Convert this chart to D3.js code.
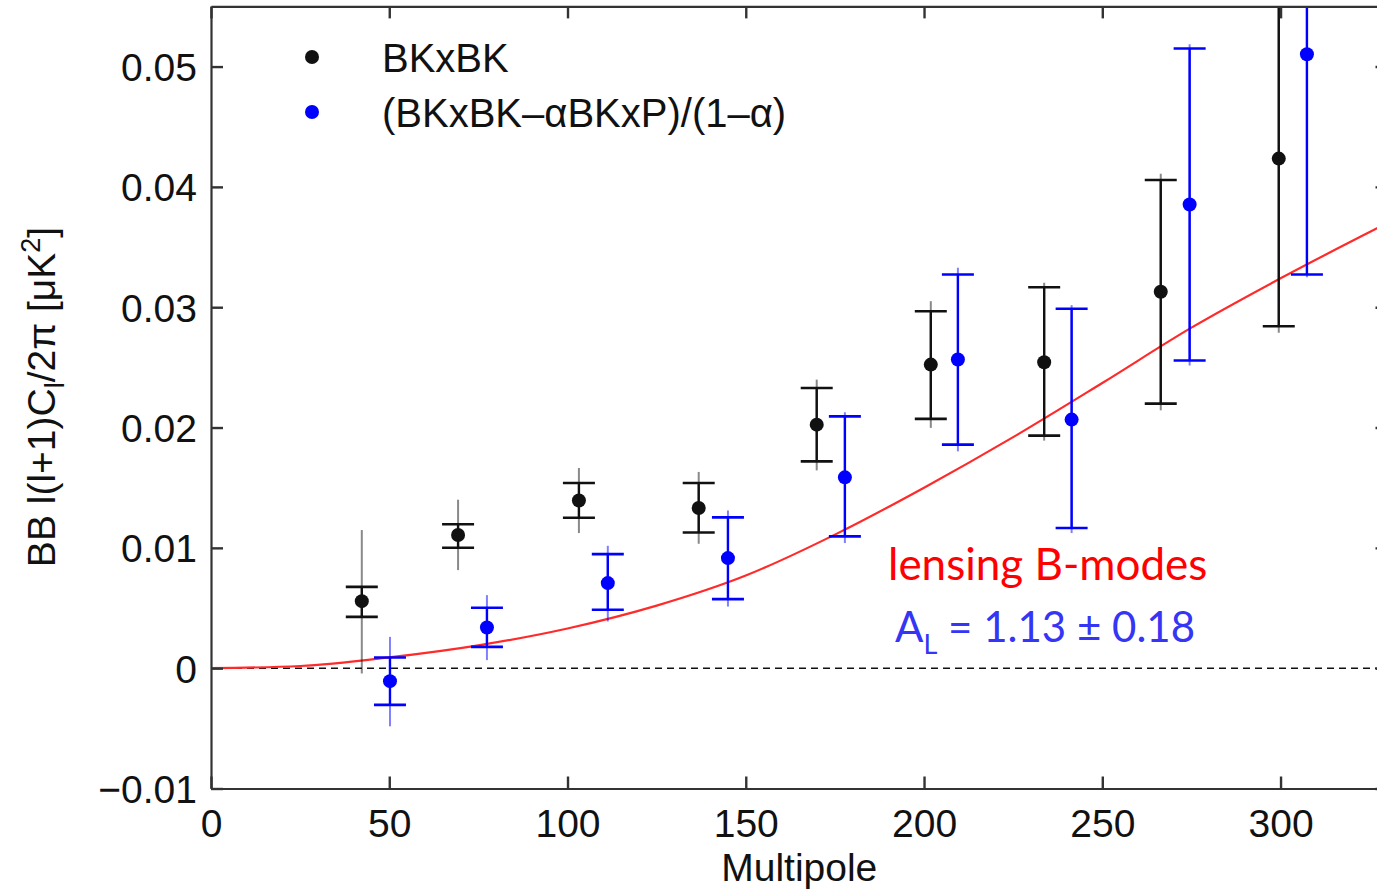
<!DOCTYPE html>
<html>
<head>
<meta charset="utf-8">
<script src="https://cdn.jsdelivr.net/npm/d3@7"></script>
<style>
  html, body { margin: 0; padding: 0; background: #fff; }
  svg { display: block; }
  text { font-family: "Liberation Sans", Arial, Helvetica, sans-serif; fill: #111; }
</style>
</head>
<body>
<svg id="chart" width="1377" height="893"></svg>
<script>
// Axis ticks
const xTicks = [0, 50, 100, 150, 200, 250, 300];
const xTickLabels = ["0", "50", "100", "150", "200", "250", "300"];
const yTicks = [-0.01, 0, 0.01, 0.02, 0.03, 0.04, 0.05];
const yTickLabels = ["\u22120.01", "0", "0.01", "0.02", "0.03", "0.04", "0.05"];

// BKxBK bandpowers
const bkEll   = [42.3, 69.3, 103.2, 136.8, 169.9, 201.9, 233.7, 266.4, 299.5];
const bkVal   = [0.00557, 0.01107, 0.01394, 0.01331, 0.02024, 0.02523, 0.02542, 0.03128, 0.04235];
const bkCapLo = [0.00426, 0.01001, 0.01250, 0.01128, 0.01719, 0.02072, 0.01933, 0.02199, 0.02842];
const bkCapHi = [0.00676, 0.01196, 0.01539, 0.01539, 0.02329, 0.02967, 0.03166, 0.04057, 0.05628];
const bkErrLo = [-0.00044, 0.00815, 0.01123, 0.01034, 0.01644, 0.01997, 0.01891, 0.02143, 0.02787];
const bkErrHi = [0.01148, 0.01400, 0.01664, 0.01631, 0.02398, 0.03050, 0.03203, 0.04110, 0.05680];

// (BKxBK - alpha BKxP)/(1 - alpha) bandpowers
const cleanEll   = [50.2, 77.4, 111.3, 145.0, 177.8, 209.5, 241.4, 274.5, 307.4];
const cleanVal   = [-0.00108, 0.00338, 0.00707, 0.00915, 0.01586, 0.02565, 0.02066, 0.03854, 0.05102];
const cleanCapLo = [-0.00305, 0.00177, 0.00485, 0.00574, 0.01095, 0.01858, 0.01165, 0.02557, 0.03272];
const cleanCapHi = [0.00089, 0.00502, 0.00948, 0.01253, 0.02093, 0.03272, 0.02987, 0.05150, 0.06930];
const cleanErrLo = [-0.00483, 0.00067, 0.00388, 0.00512, 0.01040, 0.01802, 0.01123, 0.02515, 0.03250];
const cleanErrHi = [0.00260, 0.00607, 0.01017, 0.01311, 0.02127, 0.03328, 0.03017, 0.05186, 0.06970];

// Lensing B-mode model spectrum
const lensEll = [0, 25, 50, 75, 100, 125, 150, 175, 200, 225, 250, 275, 300, 330];
const lensD   = [0, 0.00018, 0.0009, 0.0019, 0.0033, 0.0052, 0.0077, 0.0111, 0.0150, 0.0192, 0.0237, 0.0283, 0.0324, 0.0370];

const legendLabels = ["BKxBK", "(BKxBK\u2013\u03B1BKxP)/(1\u2013\u03B1)"];

const svg = d3.select("#chart");
const plotLeft = 211, plotRight = 1387.5, plotTop = 6.4, plotBottom = 788.5;

const x = d3.scaleLinear().domain([0, 330]).range([plotLeft, plotRight]);
const y = d3.scaleLinear().domain([-0.01, 0.055]).range([plotBottom, plotTop]);

svg.append("rect").attr("width", 1377).attr("height", 893).attr("fill", "#fff");

svg.append("defs").append("clipPath").attr("id", "plotclip")
  .append("rect").attr("x", plotLeft).attr("y", plotTop)
  .attr("width", plotRight - plotLeft).attr("height", plotBottom - plotTop);

const plot = svg.append("g").attr("clip-path", "url(#plotclip)");

// zero reference line
plot.append("line")
  .attr("x1", x(0)).attr("x2", x(330))
  .attr("y1", y(0)).attr("y2", y(0))
  .attr("stroke", "#111").attr("stroke-width", 1.6)
  .attr("stroke-dasharray", "7,5");

// model curve
plot.append("path")
  .datum(lensEll.map((l, i) => [l, lensD[i]]))
  .attr("fill", "none")
  .attr("stroke", "#ff2a2a")
  .attr("stroke-width", 2.2)
  .attr("d", d3.line().x(d => x(d[0])).y(d => y(d[1])).curve(d3.curveMonotoneX));

function drawSeries(ell, val, capLo, capHi, errLo, errHi, color, faint) {
  const g = plot.append("g");
  const idx = d3.range(ell.length);
  // full error extent, faint
  g.selectAll("line.full").data(idx).join("line").attr("class", "full")
    .attr("x1", i => x(ell[i])).attr("x2", i => x(ell[i]))
    .attr("y1", i => y(errLo[i])).attr("y2", i => y(errHi[i]))
    .attr("stroke", faint).attr("stroke-width", 2);
  // inner error extent, solid
  g.selectAll("line.inner").data(idx).join("line").attr("class", "inner")
    .attr("x1", i => x(ell[i])).attr("x2", i => x(ell[i]))
    .attr("y1", i => y(capLo[i])).attr("y2", i => y(capHi[i]))
    .attr("stroke", color).attr("stroke-width", 2.4);
  // caps
  ["lo", "hi"].forEach(k => {
    const arr = k === "lo" ? capLo : capHi;
    g.selectAll("line.cap" + k).data(idx).join("line").attr("class", "cap" + k)
      .attr("x1", i => x(ell[i]) - 16).attr("x2", i => x(ell[i]) + 16)
      .attr("y1", i => y(arr[i])).attr("y2", i => y(arr[i]))
      .attr("stroke", color).attr("stroke-width", 2.6);
  });
  g.selectAll("circle").data(idx).join("circle")
    .attr("cx", i => x(ell[i])).attr("cy", i => y(val[i]))
    .attr("r", 7).attr("fill", color);
}

drawSeries(bkEll, bkVal, bkCapLo, bkCapHi, bkErrLo, bkErrHi, "#111", "rgba(20,20,20,0.5)");
drawSeries(cleanEll, cleanVal, cleanCapLo, cleanCapHi, cleanErrLo, cleanErrHi, "#0000ff", "rgba(0,0,255,0.5)");

// axes with inward ticks
const axisColor = "#333";
function styleAxis(g) {
  g.select(".domain").attr("stroke", axisColor).attr("stroke-width", 2.2);
  g.selectAll(".tick line").attr("stroke", axisColor).attr("stroke-width", 2.4);
  g.selectAll(".tick text").attr("fill", "#111").style("font-size", "39px")
    .style("font-family", '"Liberation Sans", Arial, sans-serif');
}

svg.append("g").attr("transform", `translate(0,${plotBottom})`)
  .call(d3.axisBottom(x).tickValues(xTicks).tickSizeInner(-12).tickSizeOuter(0)
    .tickPadding(21).tickFormat((d, i) => xTickLabels[i]))
  .call(styleAxis);

svg.append("g").attr("transform", `translate(0,${plotTop})`)
  .call(d3.axisTop(x).tickValues(xTicks).tickSizeInner(-12).tickSizeOuter(0).tickFormat(""))
  .call(styleAxis);

const yAxisG = svg.append("g").attr("transform", `translate(${plotLeft},0)`)
  .call(d3.axisLeft(y).tickValues(yTicks).tickSizeInner(-12).tickSizeOuter(0)
    .tickPadding(14).tickFormat((d, i) => yTickLabels[i]))
  .call(styleAxis);
yAxisG.selectAll(".tick text").attr("dy", "0.36em");

svg.append("g").attr("transform", `translate(${plotRight},0)`)
  .call(d3.axisRight(y).tickValues(yTicks).tickSizeInner(-12).tickSizeOuter(0).tickFormat(""))
  .call(styleAxis);

// axis titles
svg.append("text")
  .attr("x", (plotLeft + plotRight) / 2).attr("y", 881)
  .attr("text-anchor", "middle")
  .style("font-size", "39px")
  .text("Multipole");

const yTitle = svg.append("text")
  .attr("transform", "translate(55,397) rotate(-90)")
  .attr("text-anchor", "middle")
  .style("font-size", "39px");
yTitle.append("tspan").text("BB l(l+1)C");
yTitle.append("tspan").attr("dy", 9).style("font-size", "27px").text("l");
yTitle.append("tspan").attr("dy", -9).text("/2\u03C0 [\u03BCK");
yTitle.append("tspan").attr("dy", -15).style("font-size", "27px").text("2");
yTitle.append("tspan").attr("dy", 15).text("]");

// legend
const legendColors = ["#111", "#0000ff"];
const legendY = [57, 112];
legendLabels.forEach((lab, i) => {
  svg.append("circle").attr("cx", 312).attr("cy", legendY[i]).attr("r", 7).attr("fill", legendColors[i]);
  svg.append("text").attr("x", 382).attr("y", legendY[i] + 15)
    .style("font-size", "40px").text(lab);
});

// annotations
svg.append("text")
  .attr("x", 888).attr("y", 580)
  .style("font-family", "Lato, 'Open Sans', sans-serif")
  .style("font-size", "44px")
  .style("fill", "#ff0000")
  .text("lensing B-modes");

const al = svg.append("text")
  .attr("x", 895).attr("y", 642)
  .style("font-family", "Lato, 'Open Sans', sans-serif")
  .style("font-size", "42px")
  .style("fill", "#3535f5");
al.append("tspan").text("A");
al.append("tspan").attr("dy", 12).style("font-size", "27px").text("L");
al.append("tspan").attr("dy", -12).text(" = 1.13 \u00B1 0.18");
</script>
</body>
</html>
